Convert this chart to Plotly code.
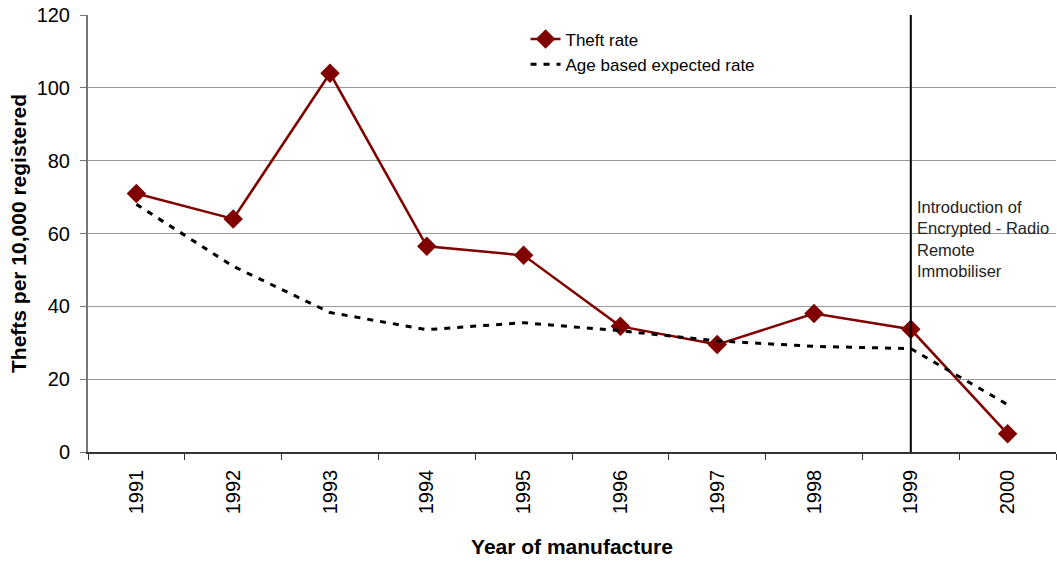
import plotly.graph_objects as go

years = ["1991", "1992", "1993", "1994", "1995", "1996", "1997", "1998", "1999", "2000"]
theft_rate = [71, 64, 104, 56.5, 54, 34.5, 29.5, 38, 33.7, 5]
expected_rate = [68, 51, 38.3, 33.6, 35.5, 33.3, 30.5, 29, 28.4, 13]
y_ticks = [0, 20, 40, 60, 80, 100, 120]
marker_year = years.index("1999")

FONT = "Liberation Sans, Arial, sans-serif"

fig = go.Figure()

fig.add_trace(go.Scatter(
    x=years, y=theft_rate, mode="lines+markers", name="Theft rate",
    line=dict(color="#800000", width=2.5),
    marker=dict(symbol="diamond", size=15, color="#800000"),
))
fig.add_trace(go.Scatter(
    x=years, y=expected_rate, mode="lines", name="Age based expected rate",
    line=dict(color="black", width=3, dash="6px,7px"),
))

# immobiliser introduction marker
fig.add_shape(type="line", xref="x", yref="y", x0=marker_year, x1=marker_year, y0=0, y1=120,
              line=dict(color="black", width=2))
fig.add_annotation(
    x=marker_year, xref="x", y=58.5, yref="y", xshift=4, xanchor="left", yanchor="middle",
    text="Introduction of<br>Encrypted - Radio<br>Remote<br>Immobiliser",
    showarrow=False, align="left", font=dict(size=16.5, color="#222", family=FONT),
)

fig.update_layout(
    width=1057, height=561,
    margin=dict(l=88, r=1, t=15, b=109),
    plot_bgcolor="white", paper_bgcolor="white",
    font=dict(family=FONT, color="black"),
    showlegend=True,
    legend=dict(x=0.452, y=0.985, xanchor="left", yanchor="top",
                font=dict(size=17), bgcolor="rgba(0,0,0,0)"),
)
fig.update_xaxes(
    type="category", range=[-0.5, len(years) - 0.5], automargin=False,
    tickangle=-90, tickfont=dict(size=20), ticklabelstandoff=8,
    showline=True, linecolor="#333", linewidth=1.5,
    ticks="outside", tickson="boundaries", ticklen=6, tickcolor="#333",
    showgrid=False,
    title=dict(text="<b>Year of manufacture</b>", font=dict(size=21), standoff=26),
)
fig.update_yaxes(
    range=[0, 120], tickvals=y_ticks, automargin=False,
    tickfont=dict(size=20), ticklabelstandoff=6,
    showline=True, linecolor="#777", linewidth=2,
    ticks="outside", ticklen=6, tickcolor="#777",
    showgrid=True, gridcolor="#999", gridwidth=1, zeroline=False,
    title=dict(text="<b>Thefts per 10,000 registered</b>", font=dict(size=21), standoff=4),
)

# drop the browser's default body margin so the figure sits at the page corner
fig.write_html("out.html", config={"displayModeBar": False},
               post_script="document.body.style.margin='0';")
